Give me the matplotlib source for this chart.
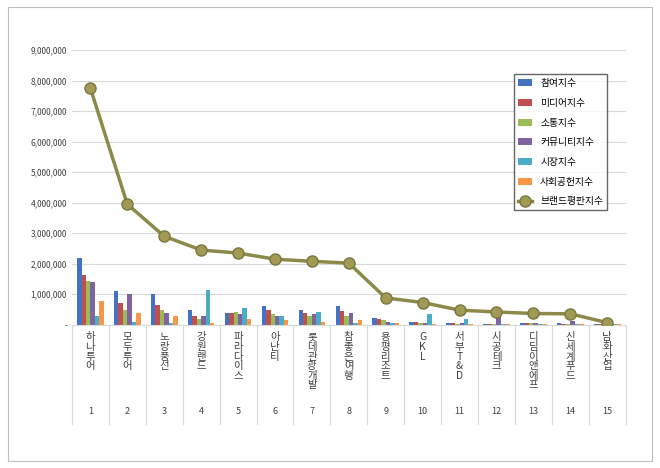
import matplotlib
matplotlib.use("Agg")
import matplotlib.pyplot as plt
import numpy as np
from matplotlib.ticker import FuncFormatter
from matplotlib import font_manager
avail = {f.name for f in font_manager.fontManager.ttflist}
fam = [f for f in ["Noto Sans CJK KR","Noto Sans CJK JP","Noto Sans CJK SC","Noto Sans CJK TC"] if f in avail] + ["DejaVu Sans"]
plt.rcParams['font.family'] = fam

names = ["하나투어","모두투어","노랑풍선","강원랜드","파라다이스","아난티","롯데관광개발","참좋은여행","용평리조트","GKL","서부T&D","시공테크","디딤이앤에프","신세계푸드","남화산업"]
ranks = [str(i) for i in range(1, 16)]
series_names = ["참여지수","미디어지수","소통지수","커뮤니티지수","시장지수","사회공헌지수"]
participation = [2200000,1120000,1000000,480000,400000,630000,500000,630000,220000,80000,60000,20000,50000,50000,20000]
media = [1620000,720000,650000,280000,400000,480000,400000,450000,200000,80000,50000,20000,50000,40000,20000]
communication = [1450000,500000,500000,200000,420000,350000,300000,300000,150000,50000,40000,20000,50000,40000,20000]
community = [1400000,1020000,380000,280000,350000,280000,350000,400000,100000,50000,50000,400000,60000,120000,20000]
market = [300000,100000,50000,1130000,550000,280000,420000,50000,50000,350000,180000,20000,20000,40000,20000]
social = [780000,400000,300000,50000,200000,150000,80000,150000,50000,30000,20000,10000,10000,10000,10000]
brand = [7750000,3950000,2900000,2450000,2350000,2150000,2080000,2020000,880000,730000,480000,420000,370000,360000,70000]

colors = ["#4472C4","#C0504D","#9BBB59","#8064A2","#4BACC6","#F79646"]
data = [participation, media, communication, community, market, social]

fig = plt.figure(figsize=(6.6, 4.68), dpi=100)
fig.patches.append(plt.Rectangle((0.012,0.015),0.976,0.97,transform=fig.transFigure,fill=False,edgecolor="#BFBFBF",lw=0.8))
ax = fig.add_axes([0.109, 0.306, 0.839, 0.587])
x = np.arange(len(names))
w = 0.12
handles = []
for i, (s, c) in enumerate(zip(data, colors)):
    handles.append(ax.bar(x + (i - 2.5) * w, s, w, color=c, label=series_names[i], zorder=2))
ln, = ax.plot(x, brand, color="#8C8A4A", lw=2.5, marker="o", ms=8, mfc="#A09A55", mec="#7A7640", label="브랜드평판지수", zorder=3)
handles.append(ln)
ax.set_xlim(-0.5, 14.5)
ax.set_ylim(0, 9000000)
ax.set_yticks(np.arange(0, 9000001, 1000000))
ax.yaxis.set_major_formatter(FuncFormatter(lambda v, p: "-" if v == 0 else f"{int(v):,}"))
ax.tick_params(axis='y', labelsize=6, length=0, colors="#404040")
ax.grid(axis='y', color="#D9D9D9", lw=0.8, zorder=0)
for sp in ["top", "right", "left"]:
    ax.spines[sp].set_visible(False)
ax.spines["bottom"].set_color("#D9D9D9")
ax.set_xticks([])
for i in range(len(names)):
    ax.text(i, -250000, "\n".join(names[i]), ha="center", va="top", fontsize=7.5, color="#404040", linespacing=0.95)
    ax.text(i, -2850000, ranks[i], ha="center", va="center", fontsize=6.5, color="#404040")
for b in np.arange(-0.5, 15, 1):
    ax.plot([b, b], [0, -3250000], color="#D9D9D9", lw=0.8, clip_on=False)
leg = ax.legend(handles=handles, loc="upper right", bbox_to_anchor=(0.975, 0.93), fontsize=7, frameon=True, fancybox=False, edgecolor="#404040", labelspacing=1.0, handlelength=1.5)
fig.savefig("out.png", dpi=100)
